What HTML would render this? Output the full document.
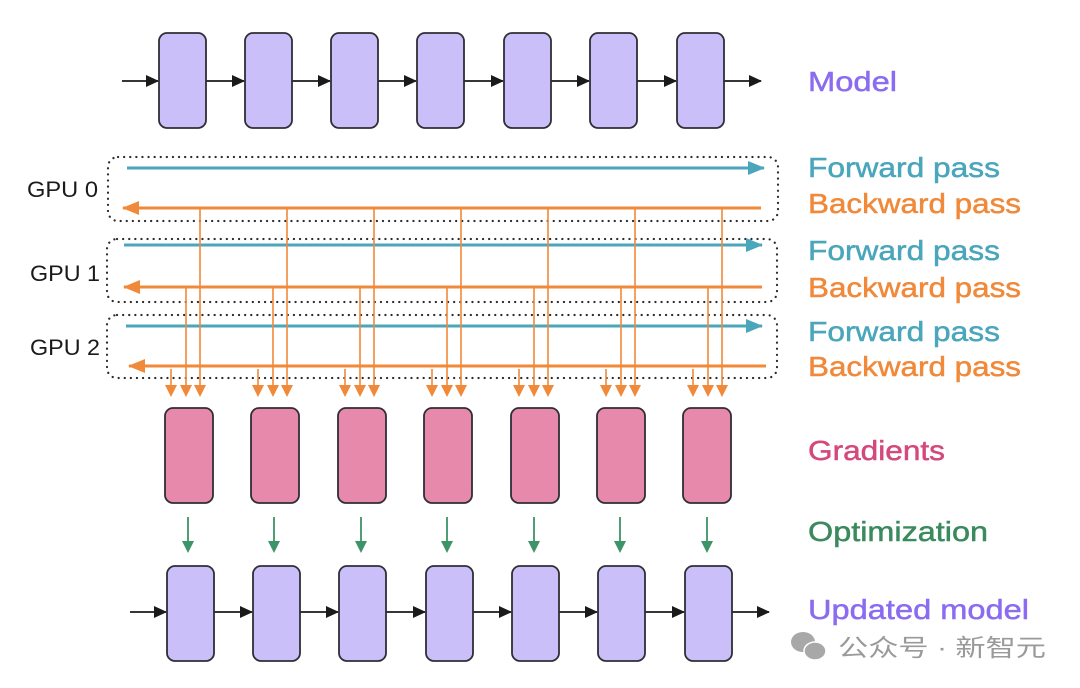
<!DOCTYPE html>
<html><head><meta charset="utf-8"><style>
html,body{margin:0;padding:0;background:#fff;}
svg{display:block;}
.lbl{font-family:"Liberation Sans",sans-serif;font-size:28px;}
.gpu{font-family:"Liberation Sans",sans-serif;font-size:22px;fill:#1a1a1a;}
</style></head><body>
<svg width="1080" height="688" viewBox="0 0 1080 688" xmlns="http://www.w3.org/2000/svg">
<defs>
<marker id="ak" markerWidth="13" markerHeight="12" refX="12" refY="6" orient="auto" markerUnits="userSpaceOnUse"><path d="M0,0 L13,6 L0,12 z" fill="#1a1a1a"/></marker>
<marker id="at" markerWidth="17" markerHeight="14" refX="16" refY="7" orient="auto" markerUnits="userSpaceOnUse"><path d="M0,0 L17,7 L0,14 z" fill="#4aa6bb"/></marker>
<marker id="ao" markerWidth="17" markerHeight="14" refX="16" refY="7" orient="auto" markerUnits="userSpaceOnUse"><path d="M0,0 L17,7 L0,14 z" fill="#f0893a"/></marker>
</defs>

<!-- Model row -->
<g stroke="#1a1a1a" stroke-width="1.8" marker-end="url(#ak)">
<line x1="122" y1="81" x2="158" y2="81"/><line x1="206" y1="81" x2="244" y2="81"/><line x1="292" y1="81" x2="330" y2="81"/><line x1="378" y1="81" x2="416" y2="81"/><line x1="464" y1="81" x2="503" y2="81"/><line x1="551" y1="81" x2="589" y2="81"/><line x1="637" y1="81" x2="676" y2="81"/><line x1="724" y1="81" x2="761" y2="81"/>
</g>
<g fill="#cbbffa" stroke="#2e2e35" stroke-width="1.8">
<rect x="159" y="33" width="47" height="95" rx="8"/><rect x="245" y="33" width="47" height="95" rx="8"/><rect x="331" y="33" width="47" height="95" rx="8"/><rect x="417" y="33" width="47" height="95" rx="8"/><rect x="504" y="33" width="47" height="95" rx="8"/><rect x="590" y="33" width="47" height="95" rx="8"/><rect x="677" y="33" width="47" height="95" rx="8"/>
</g>

<!-- GPU boxes -->
<g fill="none" stroke="#2a2a2a" stroke-width="2.2" stroke-dasharray="0.1 6" stroke-linecap="round">
<rect x="108" y="157" width="670" height="64" rx="10"/>
<rect x="107" y="239" width="670" height="63" rx="10"/>
<rect x="107" y="315" width="670" height="63" rx="10"/>
</g>
<text class="gpu" x="27" y="197" textLength="71" lengthAdjust="spacingAndGlyphs">GPU 0</text>
<text class="gpu" x="30" y="281" textLength="70" lengthAdjust="spacingAndGlyphs">GPU 1</text>
<text class="gpu" x="30" y="355" textLength="70" lengthAdjust="spacingAndGlyphs">GPU 2</text>

<!-- forward -->
<g stroke="#4aa6bb" stroke-width="3" marker-end="url(#at)">
<line x1="127" y1="168" x2="764" y2="168"/>
<line x1="124" y1="245" x2="762" y2="245"/>
<line x1="126" y1="326" x2="762" y2="326"/>
</g>
<!-- backward -->
<g stroke="#f0893a" stroke-width="3" marker-end="url(#ao)">
<line x1="761" y1="208" x2="123" y2="208"/>
<line x1="762" y1="287" x2="124" y2="287"/>
<line x1="766" y1="366" x2="129" y2="366"/>
</g>

<!-- vertical drops -->
<g stroke="#f0893a" stroke-width="1.6" fill="none">
<path d="M200 208V388M287 208V388M374 208V388M461 208V388M548 208V388M635 208V388M722 208V388"/>
<path d="M186 287V388M273 287V388M360 287V388M447 287V388M534 287V388M621 287V388M708 287V388"/>
<path d="M171 369V388M258 369V388M345 369V388M432 369V388M519 369V388M606 369V388M693 369V388"/>
</g>
<g fill="#f0893a">
<path d="M194 385h12l-6 12z M281 385h12l-6 12z M368 385h12l-6 12z M455 385h12l-6 12z M542 385h12l-6 12z M629 385h12l-6 12z M716 385h12l-6 12z"/>
<path d="M180 385h12l-6 12z M267 385h12l-6 12z M354 385h12l-6 12z M441 385h12l-6 12z M528 385h12l-6 12z M615 385h12l-6 12z M702 385h12l-6 12z"/>
<path d="M165 385h12l-6 12z M252 385h12l-6 12z M339 385h12l-6 12z M426 385h12l-6 12z M513 385h12l-6 12z M600 385h12l-6 12z M687 385h12l-6 12z"/>
</g>

<!-- gradients -->
<g fill="#e789ab" stroke="#2e2e35" stroke-width="1.8">
<rect x="165" y="408" width="48" height="95" rx="8"/><rect x="251" y="408" width="48" height="95" rx="8"/><rect x="338" y="408" width="48" height="95" rx="8"/><rect x="424" y="408" width="48" height="95" rx="8"/><rect x="511" y="408" width="48" height="95" rx="8"/><rect x="597" y="408" width="48" height="95" rx="8"/><rect x="683" y="408" width="48" height="95" rx="8"/>
</g>

<!-- green arrows -->
<g stroke="#3d9468" stroke-width="1.8">
<path d="M188 517V544M274 517V544M361 517V544M447 517V544M534 517V544M620 517V544M707 517V544"/>
</g>
<g fill="#3d9468">
<path d="M182 541h12l-6 12z M268 541h12l-6 12z M355 541h12l-6 12z M441 541h12l-6 12z M528 541h12l-6 12z M614 541h12l-6 12z M701 541h12l-6 12z"/>
</g>

<!-- updated model -->
<g stroke="#1a1a1a" stroke-width="1.8" marker-end="url(#ak)">
<line x1="130" y1="612" x2="166" y2="612"/><line x1="214" y1="612" x2="252" y2="612"/><line x1="300" y1="612" x2="338" y2="612"/><line x1="386" y1="612" x2="425" y2="612"/><line x1="473" y1="612" x2="511" y2="612"/><line x1="559" y1="612" x2="597" y2="612"/><line x1="645" y1="612" x2="684" y2="612"/><line x1="732" y1="612" x2="769" y2="612"/>
</g>
<g fill="#cbbffa" stroke="#2e2e35" stroke-width="1.8">
<rect x="167" y="566" width="47" height="95" rx="8"/><rect x="253" y="566" width="47" height="95" rx="8"/><rect x="339" y="566" width="47" height="95" rx="8"/><rect x="426" y="566" width="47" height="95" rx="8"/><rect x="512" y="566" width="47" height="95" rx="8"/><rect x="598" y="566" width="47" height="95" rx="8"/><rect x="685" y="566" width="47" height="95" rx="8"/>
</g>

<!-- labels -->
<g stroke-width="0.5">
<text class="lbl" x="808" y="91" fill="#8b6cf0" stroke="#8b6cf0" textLength="89" lengthAdjust="spacingAndGlyphs">Model</text>
<text class="lbl" x="808" y="177" fill="#4aa6bb" stroke="#4aa6bb" textLength="192" lengthAdjust="spacingAndGlyphs">Forward pass</text>
<text class="lbl" x="808" y="213" fill="#f0893a" stroke="#f0893a" textLength="213" lengthAdjust="spacingAndGlyphs">Backward pass</text>
<text class="lbl" x="808" y="260" fill="#4aa6bb" stroke="#4aa6bb" textLength="192" lengthAdjust="spacingAndGlyphs">Forward pass</text>
<text class="lbl" x="808" y="297" fill="#f0893a" stroke="#f0893a" textLength="213" lengthAdjust="spacingAndGlyphs">Backward pass</text>
<text class="lbl" x="808" y="341" fill="#4aa6bb" stroke="#4aa6bb" textLength="192" lengthAdjust="spacingAndGlyphs">Forward pass</text>
<text class="lbl" x="808" y="376" fill="#f0893a" stroke="#f0893a" textLength="213" lengthAdjust="spacingAndGlyphs">Backward pass</text>
<text class="lbl" x="808" y="460" fill="#d4497c" stroke="#d4497c" textLength="137" lengthAdjust="spacingAndGlyphs">Gradients</text>
<text class="lbl" x="808" y="541" fill="#3a8a5e" stroke="#3a8a5e" textLength="180" lengthAdjust="spacingAndGlyphs">Optimization</text>
<text class="lbl" x="808" y="619" fill="#8b6cf0" stroke="#8b6cf0" textLength="221" lengthAdjust="spacingAndGlyphs">Updated model</text>
</g>

<!-- watermark -->
<g fill="#a8a8a8">
<ellipse cx="803" cy="642" rx="12" ry="10"/>
<ellipse cx="815" cy="651" rx="11" ry="9" stroke="#fff" stroke-width="1.5"/>
</g>
<text x="838" y="656" font-family="'Liberation Sans','Noto Sans CJK SC',sans-serif" font-size="24" fill="#9a9a9a" textLength="208" lengthAdjust="spacingAndGlyphs">公众号 · 新智元</text>
</svg>
</body></html>
